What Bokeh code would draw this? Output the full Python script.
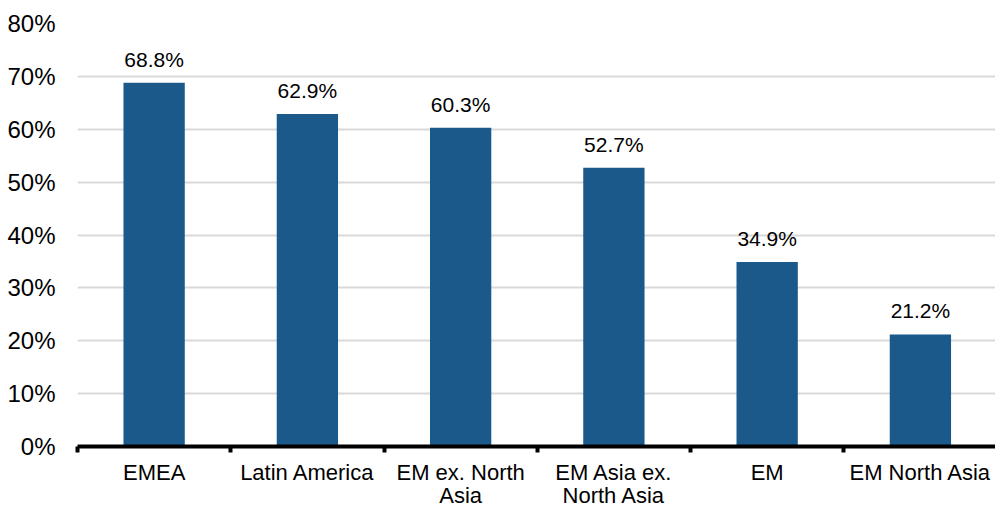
from bokeh.plotting import figure
from bokeh.models import Range1d, FixedTicker, PrintfTickFormatter, ColumnDataSource, LinearAxis
from bokeh.core.properties import value
from bokeh.embed import file_html
from bokeh.resources import INLINE

categories = ["EMEA", "Latin America", "EM ex. North\nAsia", "EM Asia ex.\nNorth Asia", "EM", "EM North Asia"]
values = [68.8, 62.9, 60.3, 52.7, 34.9, 21.2]
y_ticks = [0, 10, 20, 30, 40, 50, 60, 70, 80]

FONT = "Liberation Sans"
BAR = "#1a5989"

xs = [i + 0.5 for i in range(len(categories))]
src = ColumnDataSource(dict(x=xs, top=values, label=[f"{v:.1f}%" for v in values]))

p = figure(width=995, height=510, output_backend="svg", toolbar_location=None,
           x_range=Range1d(0, 5.99), y_range=Range1d(0, 80),
           min_border_left=77, min_border_right=0, min_border_top=23, min_border_bottom=0,
           x_axis_location=None, y_axis_location=None)
p.outline_line_color = None
p.background_fill_color = "white"
p.border_fill_color = "white"

p.vbar(x="x", top="top", width=0.4, bottom=0, source=src, fill_color=BAR, line_color=None)
p.text(x="x", y="top", text="label", source=src, text_align="center", text_baseline="bottom",
       y_offset=-12, text_font=value(FONT), text_font_size="21px", text_color="#000000")

# grid
p.xgrid.grid_line_color = None
p.ygrid.ticker = FixedTicker(ticks=y_ticks)
p.ygrid.grid_line_color = "#d9d9d9"
p.ygrid.grid_line_width = 2

yaxis = LinearAxis(ticker=FixedTicker(ticks=y_ticks), formatter=PrintfTickFormatter(format="%d%%"))
yaxis.axis_line_color = None
yaxis.major_tick_line_color = None
yaxis.minor_tick_line_color = None
yaxis.major_tick_out = 0
yaxis.major_tick_in = 0
yaxis.minor_tick_out = 0
yaxis.minor_tick_in = 0
yaxis.major_label_standoff = 22
yaxis.major_label_text_font = FONT
yaxis.major_label_text_font_size = "24px"
yaxis.major_label_text_color = "#000000"
p.add_layout(yaxis, "left")

xaxis = LinearAxis(ticker=FixedTicker(ticks=xs, minor_ticks=list(range(len(categories) + 1))))
xaxis.major_label_overrides = {x: c for x, c in zip(xs, categories)}
xaxis.axis_line_color = "#000000"
xaxis.axis_line_width = 4
xaxis.major_tick_line_color = None
xaxis.major_tick_out = 0
xaxis.major_tick_in = 0
xaxis.minor_tick_line_color = "#000000"
xaxis.minor_tick_line_width = 4
xaxis.minor_tick_out = 6
xaxis.minor_tick_in = 0
xaxis.major_label_standoff = 7
xaxis.major_label_text_font = FONT
xaxis.major_label_text_font_size = "22px"
xaxis.major_label_text_color = "#000000"
xaxis.major_label_text_line_height = 0.92
p.add_layout(xaxis, "below")

open("out.html", "w").write(file_html(p, INLINE))
